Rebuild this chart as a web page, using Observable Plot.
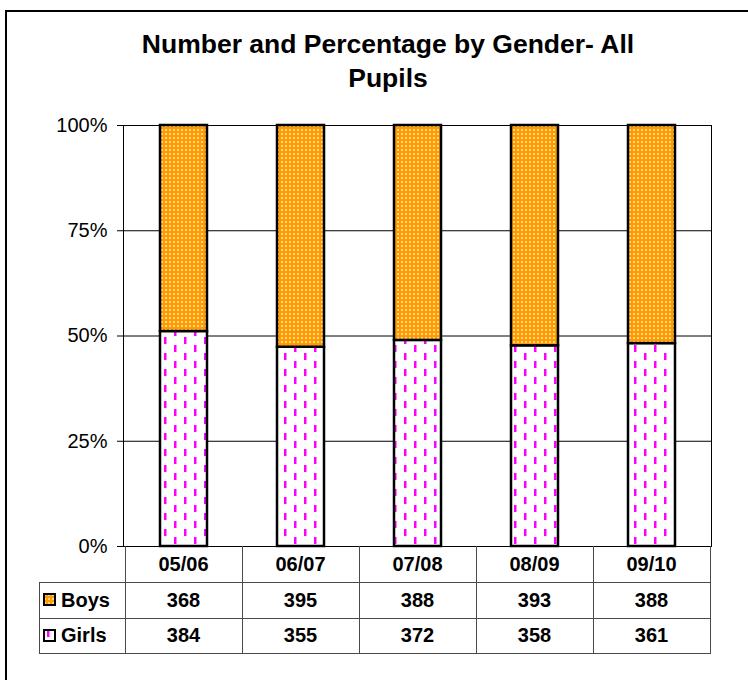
<!DOCTYPE html>
<html>
<head>
<meta charset="utf-8">
<script src="https://cdn.jsdelivr.net/npm/d3@7"></script>
<script src="https://cdn.jsdelivr.net/npm/@observablehq/plot@0.6"></script>
<style>
  html, body { margin: 0; padding: 0; background: #fff; }
  #page { position: relative; width: 748px; height: 680px; overflow: hidden; background: #fff;
          font-family: "Liberation Sans", Arial, sans-serif; color: #000; }
  #title { position: absolute; left: 88px; top: 27px; width: 600px; text-align: center;
           font-weight: bold; font-size: 26.5px; line-height: 34px; }
  .cell { position: absolute; display: flex; align-items: center; justify-content: center;
          font-weight: bold; font-size: 20px; }
  .lab { justify-content: flex-start; }
  .hl, .vl { position: absolute; background: #4a4a4a; }
  #frameL { position: absolute; left: 5px; top: 10px; width: 2px; height: 700px; background: #000; }
  #frameT { position: absolute; left: 5px; top: 10px; width: 760px; height: 2px; background: #000; }
</style>
</head>
<body>
<div id="page">
  <div id="title">Number and Percentage by Gender- All<br>Pupils</div>
  <div id="chart"></div>
  <div id="table"></div>
  <div id="frameL"></div>
  <div id="frameT"></div>
</div>
<script>
// ---- data ----
const years = ["05/06", "06/07", "07/08", "08/09", "09/10"];
const boys = [368, 395, 388, 393, 388];
const girls = [384, 355, 372, 358, 361];
const genders = ["Boys", "Girls"];
const yTicks = [0, 0.25, 0.5, 0.75, 1];

const data = years.flatMap((y, i) => [
  {year: y, gender: "Girls", count: girls[i]},
  {year: y, gender: "Boys", count: boys[i]}
]);

const chart = Plot.plot({
  width: 748,
  height: 680,
  marginTop: 125,
  marginBottom: 134,
  marginLeft: 123,
  marginRight: 37,
  style: {fontFamily: "'Liberation Sans', Arial, sans-serif", fontSize: "20px", color: "#000", background: "transparent", overflow: "visible"},
  x: {domain: years, paddingInner: 0.6, paddingOuter: 0.3, axis: null},
  y: {domain: [0, 1], ticks: yTicks, tickFormat: d3.format(".0%"), tickSize: 6, tickPadding: 10, label: null},
  color: {domain: genders, range: ["url(#pBoys)", "url(#pGirls)"]},
  marks: [
    Plot.ruleY(yTicks, {stroke: "#000", strokeWidth: 1}),
    Plot.barY(data, {x: "year", y: "count", z: "gender", fill: "gender", order: ["Girls", "Boys"],
                     offset: "normalize", stroke: "#000", strokeWidth: 2.5}),
    Plot.frame({stroke: "#000", strokeWidth: 1})
  ]
});
document.getElementById("chart").appendChild(chart);
chart.style.position = "absolute";
chart.style.left = "0px";
chart.style.top = "0px";

// patterns
const svg = d3.select(chart);
const defs = svg.insert("defs", ":first-child");
const pb = defs.append("pattern").attr("id", "pBoys").attr("patternUnits", "userSpaceOnUse")
  .attr("width", 4).attr("height", 4);
pb.append("rect").attr("width", 4).attr("height", 4).attr("fill", "#FF9A00");
pb.append("rect").attr("x", 1).attr("y", 1).attr("width", 2).attr("height", 2).attr("fill", "#FFD68A");
const pg = defs.append("pattern").attr("id", "pGirls").attr("patternUnits", "userSpaceOnUse")
  .attr("width", 20).attr("height", 16);
pg.append("rect").attr("width", 20).attr("height", 16).attr("fill", "#fff");
pg.append("rect").attr("x", 4).attr("y", 1).attr("width", 2.5).attr("height", 7).attr("fill", "#FF00FF");
pg.append("rect").attr("x", 14).attr("y", 9).attr("width", 2.5).attr("height", 7).attr("fill", "#FF00FF");

// ---- data table under the chart, aligned to the x scale ----
const xs = chart.scale("x");
const step = xs.step, bw = xs.bandwidth;
const x0 = xs.apply(years[0]) - (step - bw) / 2;
const tbl = document.getElementById("table");
const rowTops = [546, 582, 618, 653];
const labLeft = 39;
function add(cls, css, html) {
  const d = document.createElement("div");
  d.className = cls;
  Object.assign(d.style, css);
  if (html != null) d.innerHTML = html;
  tbl.appendChild(d);
  return d;
}
// horizontal lines
[582, 618, 653].forEach(y => add("hl", {left: labLeft + "px", top: y + "px", width: (x0 + step * years.length - labLeft + 1) + "px", height: "1px"}));
// vertical lines
add("vl", {left: labLeft + "px", top: "582px", width: "1px", height: (653 - 582 + 1) + "px"});
for (let i = 0; i <= years.length; i++) {
  add("vl", {left: Math.round(x0 + i * step) + "px", top: "546px", width: "1px", height: (653 - 546 + 1) + "px"});
}
// header and values
const rows = [years, boys, girls];
rows.forEach((vals, r) => {
  vals.forEach((v, i) => {
    add("cell", {left: (x0 + i * step) + "px", top: rowTops[r] + "px", width: step + "px", height: (rowTops[r + 1] - rowTops[r]) + "px"}, String(v));
  });
});
// legend labels with pattern swatches
genders.forEach((g, k) => {
  const r = k + 1;
  const pid = g === "Boys" ? "pBoys" : "pGirls";
  add("cell lab", {left: (labLeft + 4) + "px", top: rowTops[r] + "px", width: (x0 - labLeft - 4) + "px", height: (rowTops[r + 1] - rowTops[r]) + "px"},
    `<svg width="14" height="14" style="margin-right:4px;flex:none"><rect x="1" y="1" width="11" height="11" fill="url(#${pid})" stroke="#000" stroke-width="2"></rect></svg>${g}`);
});
</script>
</body>
</html>
